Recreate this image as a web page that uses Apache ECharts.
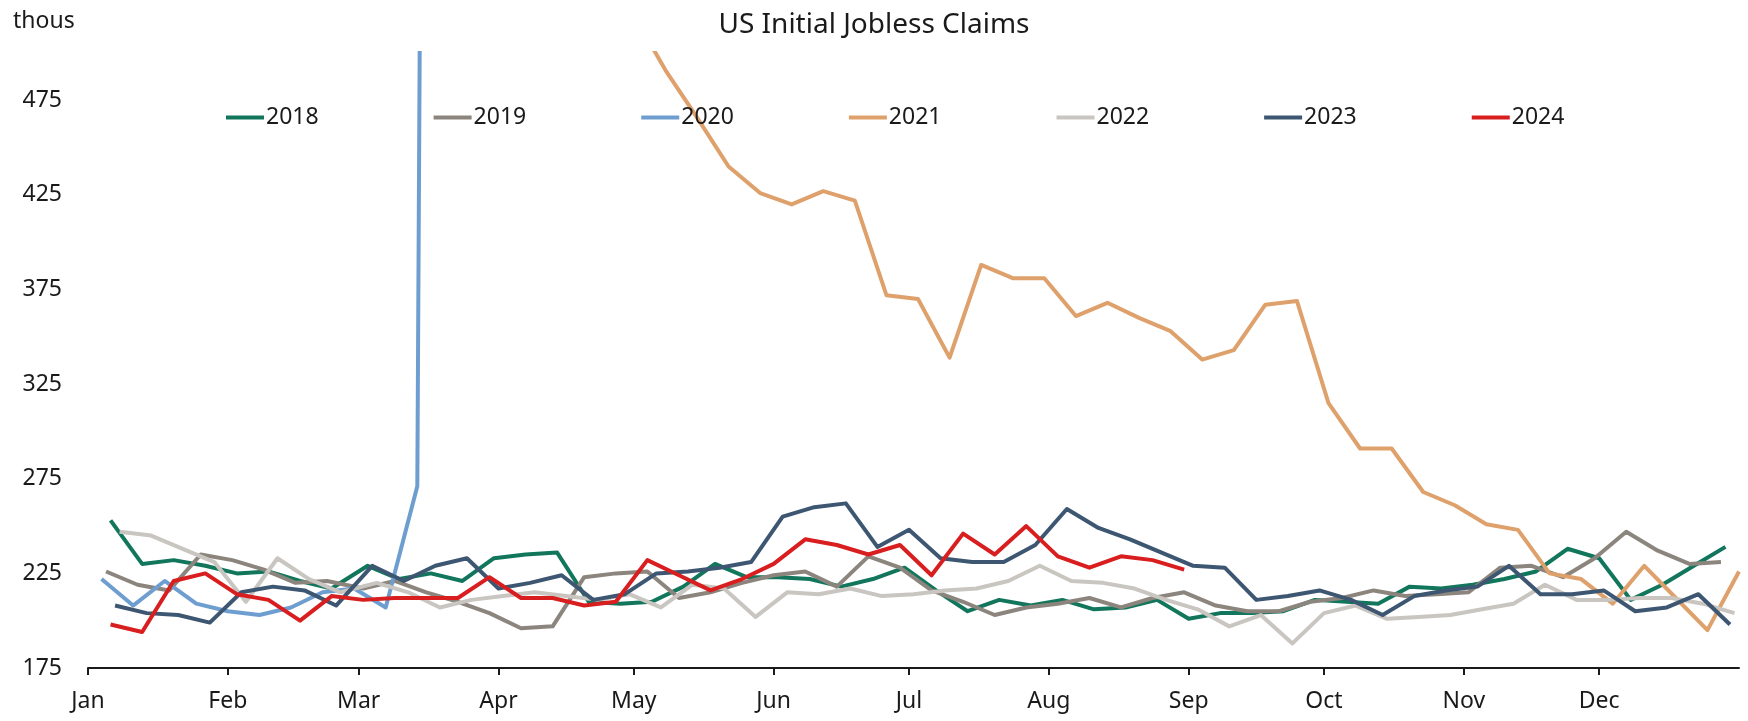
<!DOCTYPE html>
<html>
<head>
<meta charset="utf-8">
<title>US Initial Jobless Claims</title>
<script src="https://cdn.jsdelivr.net/npm/echarts@6/dist/echarts.min.js"></script>
<style>
  html, body { margin: 0; padding: 0; background: #ffffff; }
  #chart { width: 1748px; height: 721px; }
</style>
</head>
<body>
<div id="chart"></div>
<script>
// Weekly initial jobless claims (thousands). Each list runs from the year's first week-ending Saturday.
const seriesNames = ['2018', '2019', '2020', '2021', '2022', '2023', '2024'];
const firstWeekEnding = ['2018-01-06', '2019-01-05', '2020-01-04', '2021-01-02', '2022-01-08', '2023-01-07', '2024-01-06'];

const claims2018 = [253, 230, 232, 229, 225, 226, 221, 217, 229, 222, 225, 221, 233, 235, 236, 210, 209,
  210, 218, 230, 223, 223, 222, 218, 222, 228, 216, 205, 211, 208, 211, 206, 207, 211,
  201, 204, 204, 205, 211, 210, 209, 218, 217, 219, 222, 226, 238, 233, 211, 219, 229, 239];

const claims2019 = [226, 219, 216, 235, 232, 227, 220, 221, 217, 221, 215, 210, 204, 196, 197, 223, 225,
  226, 212, 215, 220, 224, 226, 218, 234, 228, 216, 210, 203, 207, 209, 212, 207, 212, 215,
  208, 205, 205, 210, 212, 216, 213, 214, 215, 228, 229, 223, 233, 247, 237, 230, 231];

const claims2020 = [222, 208, 221, 209, 205, 203, 207, 215, 217, 207, 271, 3307];

const claims2021 = [790, 910, 880, 860, 810, 840, 830, 760, 770, 720, 770, 680, 720, 760, 590, 565, 585,
  520, 491, 466, 440, 426, 420, 427, 422, 372, 370, 339, 388, 381, 381, 361, 368, 360, 353,
  338, 343, 367, 369, 315, 291, 291, 268, 261, 251, 248, 225, 222, 209, 229, 212, 195, 226];

const claims2022 = [247, 245, 238, 231, 210, 233, 222, 215, 220, 215, 207, 211, 213, 215, 213, 211, 214,
  207, 219, 217, 202, 215, 214, 217, 213, 214, 216, 217, 221, 229, 221, 220, 217, 211,
  206, 197, 203, 188, 204, 208, 201, 202, 203, 206, 209, 219, 211, 211, 212, 212, 209, 204];

const claims2023 = [208, 204, 203, 199, 215, 218, 216, 208, 229, 221, 229, 233, 217, 220, 224, 211, 214,
  225, 226, 228, 231, 255, 260, 262, 239, 248, 233, 231, 231, 240, 259, 249, 243, 236,
  229, 228, 211, 213, 216, 211, 203, 213, 216, 218, 229, 214, 214, 216, 205, 207, 214, 198];

const claims2024 = [198, 194, 221, 225, 214, 211, 200, 213, 211, 212, 212, 212, 223, 212, 212, 208, 210,
  232, 224, 216, 222, 230, 243, 240, 235, 240, 224, 246, 235, 250, 234, 228, 234, 232, 227];

const claimsByYear = [claims2018, claims2019, claims2020, claims2021, claims2022, claims2023, claims2024];
const seriesColors = ['#11765b', '#8c857d', '#6e9ed0', '#dfa16c', '#c9c5c0', '#3d5672', '#d81e1e'];

const monthNames = ['Jan', 'Feb', 'Mar', 'Apr', 'May', 'Jun', 'Jul', 'Aug', 'Sep', 'Oct', 'Nov', 'Dec'];
const yTickLabels = [175, 225, 275, 325, 375, 425, 475];

// Every year is laid on a common calendar (a leap year) so the weeks line up by month and day.
function weekPoints(start, values) {
  const [y, m, d] = start.split('-').map(Number);
  return values.map((v, i) => {
    const day = new Date(Date.UTC(y, m - 1, d + 7 * i));
    const yearShift = day.getUTCFullYear() - y;
    return [Date.UTC(2024, day.getUTCMonth() + 12 * yearShift, day.getUTCDate()), v];
  });
}

const FONT = 'Noto Sans';
const TEXT = '#1a1a1a';
const DAY = 86400000;

const chart = echarts.init(document.getElementById('chart'), null, { renderer: 'canvas' });

chart.setOption({
  animation: false,
  useUTC: true,
  backgroundColor: '#ffffff',
  textStyle: { fontFamily: FONT, color: TEXT },
  title: [
    {
      text: 'US Initial Jobless Claims',
      left: 'center',
      top: 6,
      textStyle: { fontFamily: FONT, fontSize: 28, fontWeight: 'normal', color: TEXT }
    },
    {
      text: 'thous',
      left: 8,
      top: 5,
      textStyle: { fontFamily: FONT, fontSize: 23, fontWeight: 'normal', color: TEXT }
    }
  ],
  legend: {
    data: seriesNames,
    left: 221,
    top: 101,
    itemWidth: 38,
    itemHeight: 16,
    itemGap: 115,
    icon: 'path://M0,6 L38,6 L38,10 L0,10 Z',
    textStyle: { fontFamily: FONT, fontSize: 23, color: TEXT, padding: [0, 0, 0, -3] }
  },
  grid: {
    left: 88,
    right: 9,
    top: 53,
    bottom: 53,
    outerBoundsMode: 'none'
  },
  xAxis: {
    type: 'time',
    min: Date.UTC(2024, 0, 1),
    max: Date.UTC(2025, 0, 1),
    minInterval: 28 * DAY,
    maxInterval: 31 * DAY,
    splitNumber: 12,
    axisLine: { show: true, lineStyle: { color: '#1a1a1a', width: 2 } },
    axisTick: { show: true, length: 7, lineStyle: { color: '#1a1a1a', width: 2 } },
    splitLine: { show: false },
    axisLabel: {
      fontFamily: FONT,
      fontSize: 23,
      color: TEXT,
      margin: 22,
      showMaxLabel: false,
      formatter: (v) => monthNames[new Date(v).getUTCMonth()]
    }
  },
  yAxis: {
    type: 'value',
    min: 175,
    max: 500,
    interval: 25,
    axisLine: { show: false },
    axisTick: { show: false },
    splitLine: { show: false },
    axisLabel: {
      fontFamily: FONT,
      fontSize: 23,
      color: TEXT,
      margin: 26,
      formatter: (v) => (yTickLabels.includes(v) ? String(v) : '')
    }
  },
  series: seriesNames.map((name, i) => ({
    name,
    type: 'line',
    data: weekPoints(firstWeekEnding[i], claimsByYear[i]),
    symbol: 'none',
    clip: true,
    color: seriesColors[i],
    lineStyle: { width: 4, color: seriesColors[i], join: 'round' }
  }))
});
</script>
</body>
</html>
